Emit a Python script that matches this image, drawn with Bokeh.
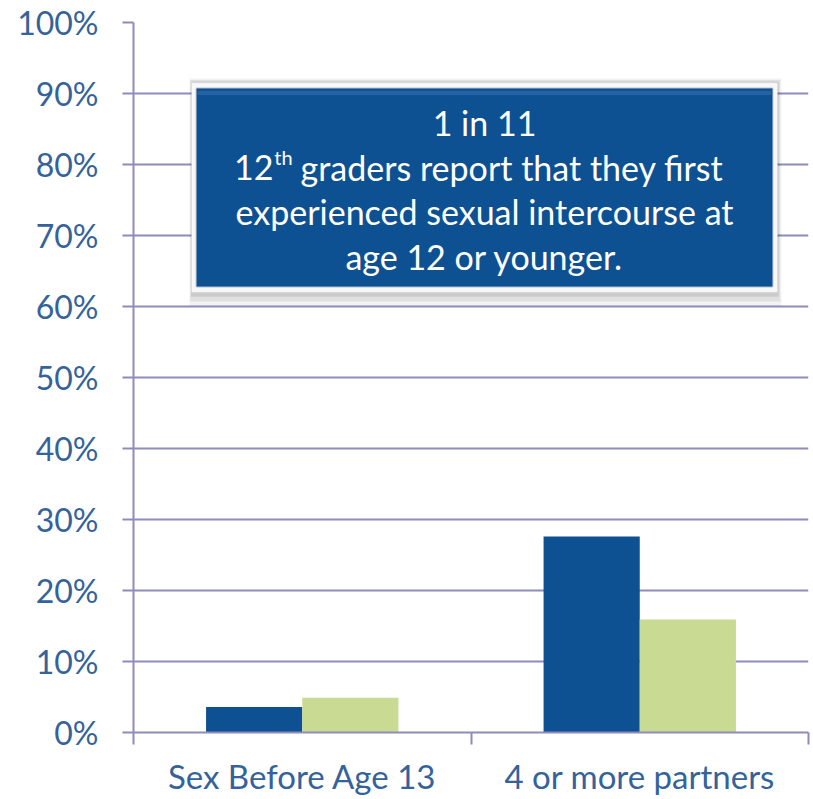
from bokeh.plotting import figure
from bokeh.models import (Range1d, FixedTicker, ColumnDataSource, BoxAnnotation,
                          Label, LinearAxis)
from bokeh.embed import file_html
from bokeh.resources import INLINE

categories = ["Sex Before Age 13", "4 or more partners"]
series_a = [0.036, 0.276]   # dark blue bars
series_b = [0.049, 0.159]   # light green bars
y_ticks = [0.0, 0.1, 0.2, 0.3, 0.4, 0.5, 0.6, 0.7, 0.8, 0.9, 1.0]
y_tick_labels = ["0%", "10%", "20%", "30%", "40%", "50%", "60%", "70%", "80%", "90%", "100%"]
callout_lines = ["1 in 11", "12", "th", "graders report that  they first",
                 "experienced sexual intercourse at", "age 12 or younger."]

BLUE = "#0e5193"
GREEN = "#c9db93"
GRID = "#8f8cbb"
TXT = "#34629a"
FONT = "Lato"

bar_w = 0.285
centers = [i + 0.5 for i in range(len(categories))]

src = ColumnDataSource(dict(
    xa=[c - bar_w / 2 for c in centers], a=series_a,
    xb=[c + bar_w / 2 for c in centers], b=series_b,
))

p = figure(width=810, height=799, output_backend="svg", toolbar_location=None,
           x_range=Range1d(0, len(categories)), y_range=Range1d(0, 1),
           min_border_left=133, min_border_right=2, min_border_top=22,
           min_border_bottom=67, x_axis_location=None, y_axis_location=None)
p.outline_line_color = None
p.background_fill_color = "white"
p.border_fill_color = "white"

p.vbar(x="xa", top="a", width=bar_w, source=src, fill_color=BLUE, line_color=None)
p.vbar(x="xb", top="b", width=bar_w, source=src, fill_color=GREEN, line_color=None)

# y axis
yax = LinearAxis(ticker=FixedTicker(ticks=y_ticks, minor_ticks=[]))
yax.major_label_overrides = {t: l for t, l in zip(y_ticks, y_tick_labels)}
yax.axis_line_color = GRID
yax.axis_line_width = 2
yax.major_tick_line_color = GRID
yax.major_tick_line_width = 2
yax.major_tick_out = 11
yax.major_tick_in = 0
yax.minor_tick_line_color = None
yax.major_label_standoff = 24
yax.major_label_text_font = FONT
yax.major_label_text_font_size = "32px"
yax.major_label_text_color = TXT
p.add_layout(yax, "left")

# x axis: labels at centres, ticks at category boundaries
xax = LinearAxis(ticker=FixedTicker(ticks=centers,
                                    minor_ticks=list(range(len(categories) + 1))))
xax.major_label_overrides = {c: n for c, n in zip(centers, categories)}
xax.axis_line_color = GRID
xax.axis_line_width = 2
xax.major_tick_line_color = None
xax.minor_tick_line_color = GRID
xax.minor_tick_line_width = 2
xax.minor_tick_out = 12
xax.minor_tick_in = 0
xax.major_label_standoff = 11
xax.major_label_text_font = FONT
xax.major_label_text_font_size = "33px"
xax.major_label_text_color = TXT
p.add_layout(xax, "below")

p.xgrid.visible = False
p.ygrid.ticker = FixedTicker(ticks=y_ticks)
p.ygrid.grid_line_color = GRID
p.ygrid.grid_line_width = 2

# call-out box: soft shadow, white frame, blue panel
for i, a in enumerate([0.05, 0.07, 0.09]):
    d = 0.012 - i * 0.004
    p.add_layout(BoxAnnotation(left=0.172 - d * 0.5, right=1.908 + d,
                               top=0.915 + d * 0.5, bottom=0.62 - d * 1.6,
                               fill_color="#000000", fill_alpha=a, line_color=None))
p.add_layout(BoxAnnotation(left=0.172, right=1.908, top=0.915, bottom=0.62,
                           fill_color="#f8f8f8", fill_alpha=1.0,
                           line_color="#d8d8d8", line_width=1))
p.add_layout(BoxAnnotation(left=0.187, right=1.893, top=0.907, bottom=0.628,
                           fill_color=BLUE, fill_alpha=1.0,
                           line_color="#0a4179", line_width=2))
p.add_layout(BoxAnnotation(left=0.19, right=1.89, top=0.904, bottom=0.898,
                           fill_color="#2a66a6", fill_alpha=0.8, line_color=None))

tc = "white"
fs = "34px"
mid = 1.04
p.add_layout(Label(x=mid, y=0.859, text=callout_lines[0], text_align="center",
                   text_baseline="middle", text_color=tc, text_font=FONT,
                   text_font_size=fs))
p.add_layout(Label(x=0.415, y=0.796, text=callout_lines[1], text_align="right",
                   text_baseline="middle", text_color=tc, text_font=FONT,
                   text_font_size=fs))
p.add_layout(Label(x=0.417, y=0.81, text=callout_lines[2], text_align="left",
                   text_baseline="middle", text_color=tc, text_font=FONT,
                   text_font_size="20px"))
p.add_layout(Label(x=0.495, y=0.796, text=callout_lines[3], text_align="left",
                   text_baseline="middle", text_color=tc, text_font=FONT,
                   text_font_size=fs))
p.add_layout(Label(x=mid, y=0.734, text=callout_lines[4], text_align="center",
                   text_baseline="middle", text_color=tc, text_font=FONT,
                   text_font_size=fs))
p.add_layout(Label(x=mid, y=0.670, text=callout_lines[5], text_align="center",
                   text_baseline="middle", text_color=tc, text_font=FONT,
                   text_font_size=fs))

open("out.html", "w").write(file_html(p, INLINE))
